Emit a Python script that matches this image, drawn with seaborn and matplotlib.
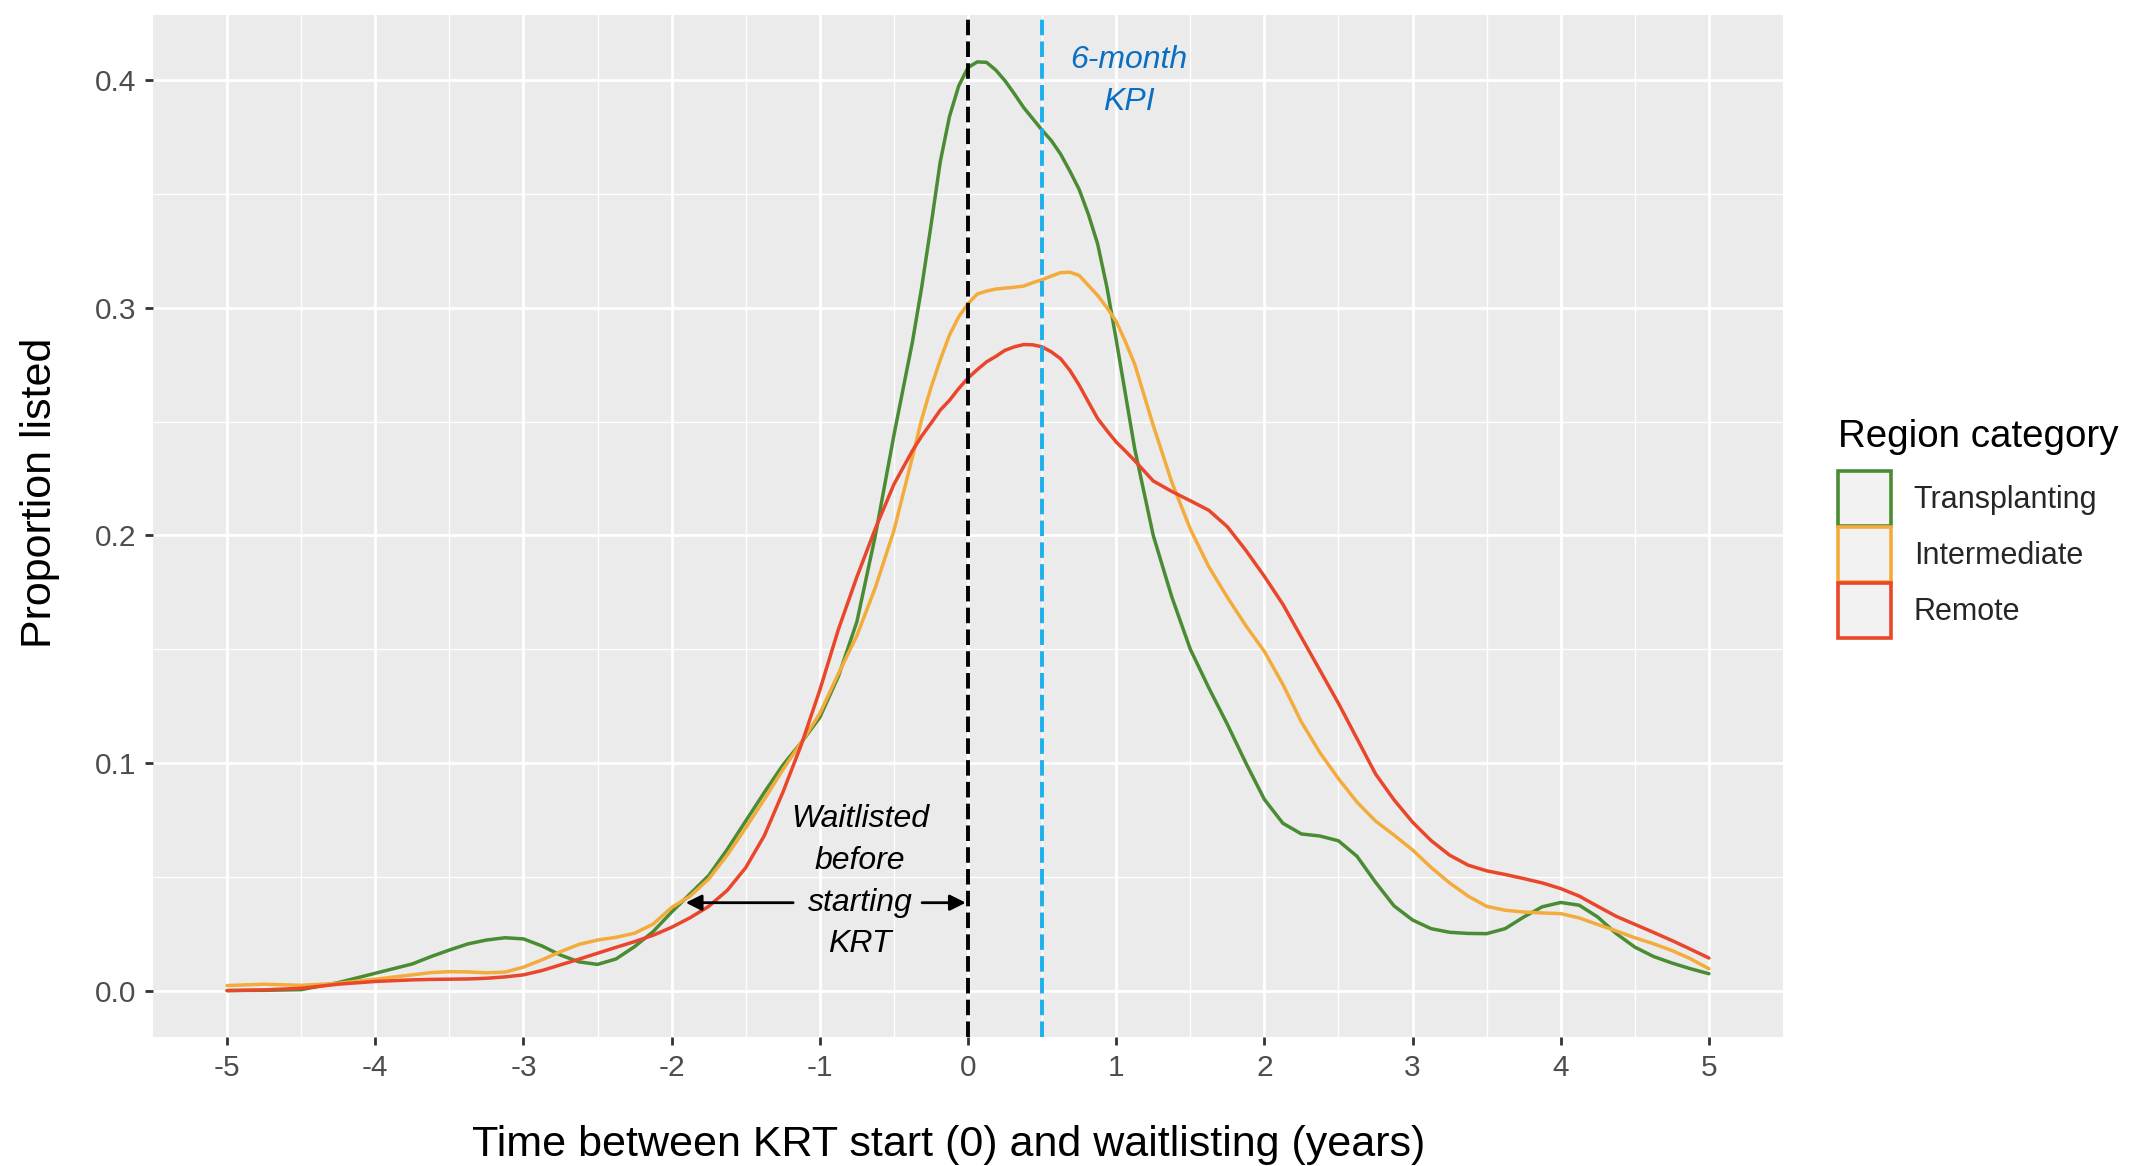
import numpy as np
import pandas as pd
import matplotlib
matplotlib.use("Agg")
import matplotlib.pyplot as plt
import seaborn as sns
from matplotlib.patches import Patch

# ---------------- data ----------------
years = [-5, -4.75, -4.5, -4.25, -4, -3.75, -3.625, -3.5, -3.375, -3.25,
         -3.125, -3, -2.875, -2.75, -2.625, -2.5, -2.375, -2.25, -2.125, -2,
         -1.875, -1.75, -1.625, -1.5, -1.375, -1.25, -1.125, -1, -0.875, -0.75,
         -0.625, -0.5, -0.375, -0.3125, -0.25, -0.1875, -0.125, -0.0625, 0, 0.0625,
         0.125, 0.1875, 0.25, 0.3125, 0.375, 0.4375, 0.5, 0.5625, 0.625, 0.6875,
         0.75, 0.8125, 0.875, 0.9375, 1.0,
         1.0625, 1.125, 1.25, 1.375, 1.5, 1.625, 1.75, 1.875, 2.0, 2.125,
         2.25, 2.375, 2.5, 2.625, 2.75, 2.875, 3.0, 3.125, 3.25, 3.375,
         3.5, 3.625, 3.75, 3.875, 4.0, 4.125, 4.25, 4.375, 4.5, 4.625,
         4.75, 4.875, 5.0]

transplanting = [0.000, 0.0001, 0.0004, 0.0035, 0.0076, 0.0117, 0.0149, 0.0178, 0.0205, 0.0222,
                 0.0232, 0.0227, 0.0196, 0.0156, 0.0126, 0.0115, 0.0139, 0.0193, 0.0259, 0.0345,
                 0.0425, 0.0505, 0.062, 0.0745, 0.087, 0.099, 0.109, 0.120, 0.138, 0.162,
                 0.200, 0.244, 0.285, 0.309, 0.336, 0.364, 0.384, 0.3975, 0.4055, 0.408,
                 0.4078, 0.4044, 0.3997, 0.394, 0.388, 0.383, 0.378, 0.3734, 0.3675, 0.360,
                 0.352, 0.341, 0.328, 0.309, 0.286,
                 0.262, 0.238, 0.200, 0.173, 0.150, 0.133, 0.117, 0.100, 0.084, 0.0735,
                 0.0688, 0.0679, 0.0658, 0.059, 0.0476, 0.0372, 0.031, 0.0272, 0.0256, 0.0251,
                 0.025, 0.0272, 0.0323, 0.0368, 0.0387, 0.0375, 0.0323, 0.025, 0.0191, 0.015,
                 0.0121, 0.0096, 0.0074]

intermediate = [0.0022, 0.0028, 0.0023, 0.0032, 0.005, 0.0069, 0.0079, 0.0083, 0.0082, 0.0078,
                0.0081, 0.0103, 0.0135, 0.0171, 0.0203, 0.0222, 0.0234, 0.0252, 0.0292, 0.0365,
                0.0415, 0.049, 0.0595, 0.0715, 0.084, 0.097, 0.109, 0.1217, 0.1392, 0.1559,
                0.1771, 0.2021, 0.2344, 0.251, 0.2649, 0.277, 0.288, 0.296, 0.3018, 0.306,
                0.3073, 0.3082, 0.3086, 0.309, 0.3095, 0.311, 0.3123, 0.3139, 0.3154, 0.3156,
                0.3142, 0.3098, 0.3054, 0.300, 0.294,
                0.285, 0.2752, 0.2483, 0.2234, 0.2028, 0.1862, 0.1728, 0.1603, 0.149, 0.1345,
                0.118, 0.1045, 0.0931, 0.0828, 0.0745, 0.0683, 0.0618, 0.0541, 0.0473, 0.0415,
                0.037, 0.0353, 0.0345, 0.0341, 0.0338, 0.0319, 0.029, 0.0262, 0.0232, 0.0206,
                0.0176, 0.014, 0.0096]

remote = [0.000, 0.0003, 0.001, 0.0028, 0.004, 0.0047, 0.0049, 0.005, 0.0051, 0.0054,
          0.006, 0.0069, 0.0088, 0.0113, 0.0138, 0.0164, 0.019, 0.0215, 0.0243, 0.0278,
          0.032, 0.037, 0.044, 0.054, 0.068, 0.087, 0.108, 0.132, 0.1586, 0.1817,
          0.203, 0.2224, 0.2372, 0.2436, 0.2492, 0.255, 0.2593, 0.2645, 0.2691, 0.2728,
          0.2762, 0.2786, 0.2813, 0.2828, 0.2838, 0.2837, 0.2828, 0.2806, 0.2776, 0.2725,
          0.266, 0.2586, 0.2513, 0.246, 0.241,
          0.237, 0.2328, 0.2239, 0.2193, 0.2152, 0.211, 0.2038, 0.1934, 0.182, 0.1697,
          0.1552, 0.1407, 0.1262, 0.1107, 0.0952, 0.0838, 0.074, 0.0659, 0.0595, 0.0551,
          0.0526, 0.051, 0.0492, 0.0473, 0.0448, 0.0415, 0.037, 0.0326, 0.0291, 0.0256,
          0.022, 0.0182, 0.0143]

categories = ["Transplanting", "Intermediate", "Remote"]
category_colors = ["#4A8C33", "#F3AC3C", "#E9462B"]

x_ticks = [-5, -4, -3, -2, -1, 0, 1, 2, 3, 4, 5]
x_tick_labels = ["-5", "-4", "-3", "-2", "-1", "0", "1", "2", "3", "4", "5"]
y_ticks = [0.0, 0.1, 0.2, 0.3, 0.4]
y_tick_labels = ["0.0", "0.1", "0.2", "0.3", "0.4"]

krt_start = 0.0
kpi_line = 0.5

waitlist_lines = ["Waitlisted", "before", "starting", "KRT"]
kpi_lines = ["6-month", "KPI"]

# ---------------- build long table ----------------
df = pd.concat([
    pd.DataFrame({"years": years, "prop": transplanting, "region": categories[0]}),
    pd.DataFrame({"years": years, "prop": intermediate, "region": categories[1]}),
    pd.DataFrame({"years": years, "prop": remote, "region": categories[2]}),
], ignore_index=True)

sns.set_theme(style="darkgrid")
plt.rcParams['font.family'] = ['Liberation Sans', 'DejaVu Sans']

W, H = 2139, 1166
fig = plt.figure(figsize=(W / 100, H / 100), dpi=100)
ax = fig.add_axes([153 / W, (H - 1037) / H, (1783 - 153) / W, (1037 - 15) / H])
ax.set_facecolor("#EBEBEB")

sns.lineplot(data=df, x="years", y="prop", hue="region", hue_order=categories,
             palette=dict(zip(categories, category_colors)), estimator=None,
             errorbar=None, linewidth=2.5, legend=False, ax=ax, zorder=3,
             solid_joinstyle="round", solid_capstyle="round")

ax.set_xlim(-5.5, 5.5)
ax.set_ylim(-0.0204, 0.4286)
ax.set_xticks(x_ticks)
ax.set_xticklabels(x_tick_labels)
ax.set_yticks(y_ticks)
ax.set_yticklabels(y_tick_labels)
ax.set_xticks([v + 0.5 for v in x_ticks[:-1]], minor=True)
ax.set_yticks([v + 0.05 for v in y_ticks[:-1]], minor=True)
ax.grid(which="major", color="white", linewidth=2.0, zorder=0)
ax.grid(which="minor", color="white", linewidth=1.0, zorder=0)
ax.set_axisbelow(True)
for s in ax.spines.values():
    s.set_visible(False)
ax.tick_params(which="major", length=6, width=2, color="#333333",
               labelcolor="#4D4D4D", labelsize=21.5, pad=6, bottom=True, left=True)
ax.tick_params(which="minor", length=0)

ax.set_xlabel("Time between KRT start (0) and waitlisting (years)", fontsize=31,
              color="black", labelpad=31)
ax.xaxis.label.set_x(0.488)
ax.set_ylabel("Proportion listed", fontsize=31, color="black", labelpad=25)
ax.yaxis.label.set_y(0.532)

# reference lines
ax.axvline(krt_start, color="black", linestyle=(0, (4, 1.6)), linewidth=2.8, zorder=4)
ax.axvline(kpi_line, color="#1DB0EC", linestyle=(0, (4, 1.6)), linewidth=2.8, zorder=4)

# annotations
wl_x = -0.73
wl_y = [0.0755, 0.057, 0.0386, 0.0206]
for t, yy in zip(waitlist_lines, wl_y):
    ax.text(wl_x, yy, t, ha="center", va="center", style="italic", fontsize=23,
            color="black", zorder=5)
arrow_y = 0.0386
ax.annotate("", xy=(-1.905, arrow_y), xytext=(-1.18, arrow_y),
            arrowprops=dict(arrowstyle="-|>", color="black", lw=2.0,
                            mutation_scale=24, shrinkA=0, shrinkB=0), zorder=5)
ax.annotate("", xy=(-0.015, arrow_y), xytext=(-0.31, arrow_y),
            arrowprops=dict(arrowstyle="-|>", color="black", lw=2.0,
                            mutation_scale=24, shrinkA=0, shrinkB=0), zorder=5)

kpi_x = 1.082
kpi_y = [0.409, 0.3905]
for t, yy in zip(kpi_lines, kpi_y):
    ax.text(kpi_x, yy, t, ha="center", va="center", style="italic", fontsize=23,
            color="#0A6FC2", zorder=5)

# legend
fig.text(1838 / W, 1 - 447 / H, "Region category", fontsize=27.7, color="black",
         ha="left", va="baseline")
handles = [Patch(facecolor="#F2F2F2", edgecolor=c, linewidth=2.6) for c in category_colors]
leg = fig.legend(handles, categories, loc="upper left",
                 bbox_to_anchor=(1838 / W, 1 - 471 / H), frameon=False,
                 fontsize=22, handlelength=1.73, handleheight=2.39,
                 labelspacing=0.03, handletextpad=0.75,
                 borderpad=0, borderaxespad=0)

fig.savefig("out.png", dpi=100)
